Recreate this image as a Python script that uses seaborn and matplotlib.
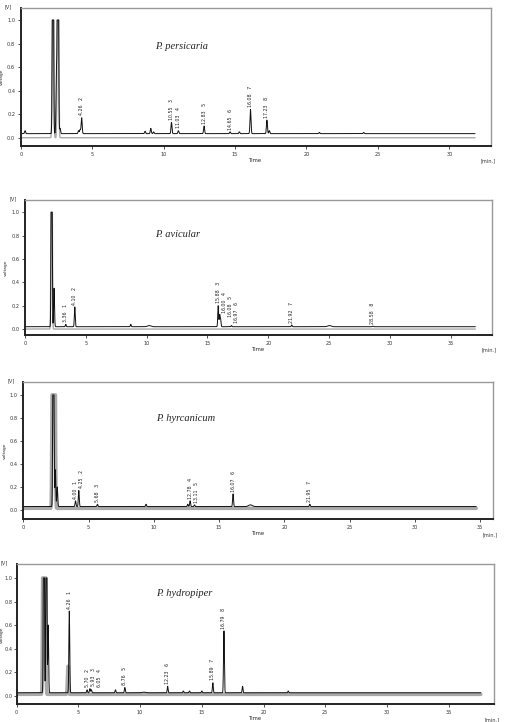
import numpy as np
import pandas as pd
import matplotlib
matplotlib.use('Agg')
import matplotlib.pyplot as plt
import seaborn as sns

sns.set_style('ticks')
plt.rcParams['font.family'] = ['DejaVu Sans']

# species shown in each chromatogram
names = ['P. persicaria', 'P. avicular', 'P. hyrcanicum', 'P. hydropiper']
run_end = [31.8, 37.0, 34.7, 37.6]          # min, end of recorded trace
baseline = [0.035, 0.02, 0.03, 0.025]       # V, sample trace baseline
blank_level = [0.0, 0.0, 0.015, 0.012]      # V, grey blank trace level

# peak retention times (min) and apex heights (V); solvent peaks saturate at 1.0
persicaria_rt = [0.3, 2.25, 2.5, 2.6, 2.75, 4.04, 4.15, 4.26, 8.7, 9.1, 9.3,
                 10.55, 11.03, 12.83, 14.65, 15.3, 16.08, 17.23, 17.4, 20.9, 24.0]
persicaria_h = [0.06, 3.0, 0.55, 3.0, 0.08, 0.06, 0.07, 0.17, 0.055, 0.08, 0.05,
                0.13, 0.06, 0.10, 0.05, 0.05, 0.24, 0.15, 0.06, 0.045, 0.045]
avicular_rt = [2.2, 2.4, 3.36, 4.10, 8.7, 10.2, 15.88, 16.00, 16.08, 16.97,
               21.92, 25.0, 28.58]
avicular_h = [3.0, 0.35, 0.04, 0.19, 0.04, 0.03, 0.20, 0.12, 0.08, 0.03,
              0.035, 0.03, 0.025]
hyrcanicum_rt = [2.3, 2.45, 2.6, 4.00, 4.25, 5.68, 9.4, 12.6, 12.78, 13.11,
                 16.07, 17.4, 21.95]
hyrcanicum_h = [3.0, 0.35, 0.2, 0.08, 0.17, 0.05, 0.05, 0.05, 0.08, 0.045,
                0.14, 0.045, 0.05]
hydropiper_rt = [2.2, 2.4, 2.55, 4.26, 5.70, 5.93, 6.05, 8.0, 8.76, 10.3, 12.23,
                 13.5, 14.0, 15.0, 15.89, 16.79, 18.3, 22.0]
hydropiper_h = [3.0, 3.0, 0.6, 0.72, 0.05, 0.06, 0.05, 0.05, 0.07, 0.03, 0.08,
                0.04, 0.04, 0.04, 0.11, 0.55, 0.08, 0.04]
broad_rt = [0.3, 10.2, 17.4, 25.0, 10.3]   # wide, low humps

# solvent front in the blank (grey) trace
blank_rt = [[2.25, 2.6], [2.2], [2.25, 2.4], [2.15, 2.3, 4.15]]
blank_h = [[3.0, 3.0], [3.0], [3.0, 3.0], [3.0, 3.0, 0.25]]

# annotated peaks: retention time and peak number
persicaria_lab = [4.26, 10.55, 11.03, 12.83, 14.65, 16.08, 17.23]
persicaria_num = [2, 3, 4, 5, 6, 7, 8]
avicular_lab = [3.36, 4.10, 15.88, 16.00, 16.08, 16.97, 21.92, 28.58]
avicular_num = [1, 2, 3, 4, 5, 6, 7, 8]
hyrcanicum_lab = [4.00, 4.25, 5.68, 12.78, 13.11, 16.07, 21.95]
hyrcanicum_num = [1, 2, 3, 4, 5, 6, 7]
hydropiper_lab = [4.26, 5.70, 5.93, 6.05, 8.76, 12.23, 15.89, 16.79]
hydropiper_num = [1, 2, 3, 4, 5, 6, 7, 8]

rts = [persicaria_rt, avicular_rt, hyrcanicum_rt, hydropiper_rt]
heights = [persicaria_h, avicular_h, hyrcanicum_h, hydropiper_h]
labs = [persicaria_lab, avicular_lab, hyrcanicum_lab, hydropiper_lab]
nums = [persicaria_num, avicular_num, hyrcanicum_num, hydropiper_num]

x_ticks = [[0, 5, 10, 15, 20, 25, 30]] + [[0, 5, 10, 15, 20, 25, 30, 35]] * 3
y_ticks = [0.0, 0.2, 0.4, 0.6, 0.8, 1.0]

# layout (figure fractions) and axis ranges
rects = [[0.041, 0.7978, 0.927, 0.1907],
         [0.049, 0.536, 0.921, 0.187],
         [0.046, 0.2807, 0.926, 0.1906],
         [0.033, 0.0245, 0.942, 0.1939]]
xmax = [32.9, 38.35, 35.97, 38.7]
ylims = [(-0.07, 1.10), (-0.051, 1.105), (-0.081, 1.115), (-0.073, 1.116)]
title_pos = [(0.286, 0.72), (0.279, 0.746), (0.283, 0.734), (0.292, 0.793)]
ylabel_x = [-0.036, -0.036, -0.035, -0.027]
ytick_pad = [2, 2, 2, 1]


def trace(t, base, rt, h, sigma):
    y = np.full_like(t, base)
    for r, a in zip(rt, h):
        s = sigma * 4 if r in broad_rt and a < 0.05 else sigma
        y += (a - base) * np.exp(-0.5 * ((t - r) / s) ** 2)
    return np.minimum(y, 1.0)


fig = plt.figure(figsize=(5.07, 7.22), dpi=100)

for i in range(4):
    ax = fig.add_axes(rects[i])
    t = np.linspace(0, run_end[i], 12000)
    blank = trace(t, blank_level[i], blank_rt[i], blank_h[i], 0.04)
    sample = trace(t, baseline[i], rts[i], heights[i], 0.035)
    df = pd.DataFrame({'Time': t, 'blank': blank, 'sample': sample})

    blank_lw = 1.0 if blank_level[i] == 0 else 2.6
    sns.lineplot(data=df, x='Time', y='blank', ax=ax, color='#aaaaaa',
                 lw=blank_lw, estimator=None)
    sns.lineplot(data=df, x='Time', y='sample', ax=ax, color='#111111',
                 lw=0.7, estimator=None)

    # peak labels, nudged sideways when peaks sit too close together
    peak_top = dict(zip(rts[i], heights[i]))
    min_gap = 0.5 * xmax[i] / 38.0
    last_x = -10
    for rt, n in zip(labs[i], nums[i]):
        top = min(peak_top.get(rt, baseline[i] + 0.03), 1.0)
        lx = max(rt, last_x + min_gap)
        last_x = lx
        ax.text(lx, top + 0.02, f'{rt:.2f}   {n}', rotation=90, fontsize=3.4,
                ha='center', va='bottom', color='#222222')

    ax.set_xlim(0, xmax[i])
    ax.set_ylim(*ylims[i])
    ax.set_xticks(x_ticks[i])
    ax.set_yticks(y_ticks)
    ax.set_yticklabels([f'{v:.1f}' for v in y_ticks])
    ax.tick_params(labelsize=3.6, length=2, width=0.6, pad=2, colors='#333333')
    ax.tick_params(axis='y', pad=ytick_pad[i])
    ax.set_xlabel('Time', fontsize=3.8, labelpad=1)
    ax.set_ylabel('voltage', fontsize=3.2)
    ax.yaxis.set_label_coords(ylabel_x[i], 0.5)
    for side in ['left', 'bottom']:
        ax.spines[side].set_color('#222222')
        ax.spines[side].set_linewidth(1.4)
    for side in ['top', 'right']:
        ax.spines[side].set_color('#999999')
        ax.spines[side].set_linewidth(1.0)

    ax.text(-0.018, 1.01, '[V]', transform=ax.transAxes, fontsize=3.6,
            ha='right', va='center', color='#333333')
    ax.text(0.995, -0.11, '[min.]', transform=ax.transAxes, fontsize=3.6,
            ha='center', va='center', color='#333333')
    ax.text(title_pos[i][0], title_pos[i][1], names[i], transform=ax.transAxes,
            fontsize=7.5, style='italic', ha='left', va='center',
            family=['Liberation Serif', 'DejaVu Serif'], color='#222222')

fig.savefig('out.png', dpi=100)
